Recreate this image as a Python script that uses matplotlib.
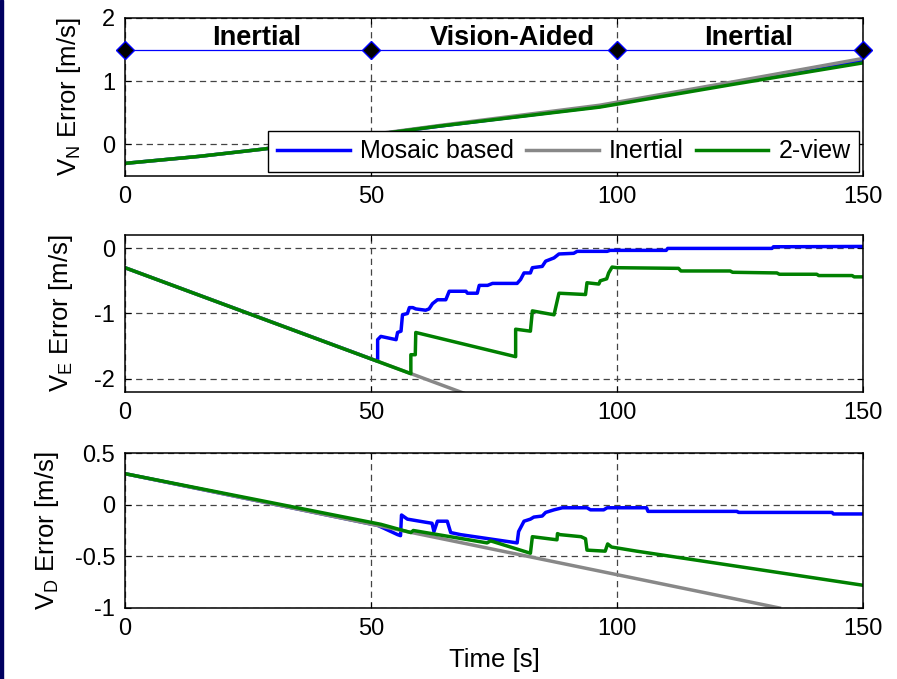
import matplotlib
matplotlib.use("Agg")
import matplotlib.pyplot as plt
from matplotlib.patches import Rectangle

plt.rcParams['font.family'] = ['Liberation Sans', 'DejaVu Sans']
plt.rcParams['mathtext.fontset'] = 'custom'
plt.rcParams['mathtext.rm'] = 'Liberation Sans'
plt.rcParams['mathtext.it'] = 'Liberation Sans'
plt.rcParams['axes.unicode_minus'] = False

# ---- data ----
# V_N error
t_vn = [0, 15, 28, 64, 96.5, 123.6, 150]
vn_mosaic = [-0.30, -0.19, -0.075, 0.29, 0.60, 0.97, 1.32]
vn_inertial = [-0.30, -0.19, -0.075, 0.30, 0.62, 0.99, 1.36]
vn_2view = [-0.30, -0.19, -0.075, 0.29, 0.59, 0.95, 1.29]

# V_E error
t_ve_inertial = [0, 70]
ve_inertial = [-0.30, -2.25]
t_ve_mosaic = [0, 51.35, 51.35, 52.0, 55.1, 55.4, 56.1, 56.4, 57.4, 57.8, 58.5, 59.1,
               61.1, 61.8, 62.5, 63.5, 65.2, 65.9, 69.3, 69.6, 71.6, 72.0, 73.7, 74.7,
               79.7, 80.4, 81.1, 82.4, 82.8, 84.8, 85.5, 87.2, 88.2, 91.2, 91.9, 98.0,
               98.6, 110, 110.3, 131.5, 131.8, 150]
ve_mosaic = [-0.30, -1.73, -1.40, -1.35, -1.40, -1.29, -1.27, -1.02, -1.00, -0.91, -0.91, -0.93,
             -0.95, -0.93, -0.85, -0.79, -0.79, -0.66, -0.66, -0.69, -0.69, -0.57, -0.57, -0.54,
             -0.54, -0.48, -0.38, -0.38, -0.30, -0.28, -0.20, -0.15, -0.09, -0.08, -0.05, -0.05,
             -0.035, -0.035, -0.005, -0.005, 0.02, 0.025]
t_ve_2view = [0, 58.1, 58.1, 59.0, 59.1, 79.4, 79.4, 82.4, 82.8, 87.2, 88.2, 93.6, 93.9,
              96.3, 96.6, 97.9, 98.3, 99.0, 100, 112.5, 113, 123, 123.5, 132.5, 133,
              140.6, 141, 147.8, 148.2, 150]
ve_2view = [-0.30, -1.92, -1.63, -1.63, -1.29, -1.66, -1.24, -1.27, -0.96, -1.02, -0.69, -0.71, -0.53,
            -0.55, -0.50, -0.47, -0.38, -0.29, -0.30, -0.31, -0.35, -0.35, -0.37, -0.38, -0.40,
            -0.40, -0.42, -0.42, -0.44, -0.44]

# V_D error
t_vd_inertial = [0, 133]
vd_inertial = [0.30, -1.00]
t_vd_mosaic = [0, 51.35, 55.4, 56.0, 56.2, 57.4, 61.1, 62.4, 62.8, 63.5, 65.5, 66.2, 68.2,
               79.7, 80.0, 81.1, 82.4, 83.1, 84.8, 85.5, 87.2, 88.9, 93.9, 94.6, 97.3, 98.0,
               106, 106.3, 124.4, 124.7, 143.7, 144, 150]
vd_mosaic = [0.30, -0.20, -0.29, -0.30, -0.10, -0.14, -0.17, -0.18, -0.26, -0.16, -0.16, -0.27, -0.29,
             -0.37, -0.26, -0.16, -0.14, -0.12, -0.11, -0.075, -0.05, -0.03, -0.03, -0.05, -0.05, -0.03,
             -0.03, -0.065, -0.065, -0.075, -0.075, -0.09, -0.09]
t_vd_2view = [0, 52, 58.1, 58.6, 73.6, 74.3, 82.4, 82.8, 87.8, 87.9, 88.4, 92.7, 93.6, 93.9,
              97.6, 98.1, 98.9, 104, 150]
vd_2view = [0.30, -0.19, -0.27, -0.25, -0.37, -0.35, -0.47, -0.31, -0.34, -0.28, -0.29, -0.31, -0.33, -0.44,
            -0.45, -0.38, -0.41, -0.45, -0.78]

# phase annotation
phase_t = [0, 50, 100, 150]
phase_y = [1.5, 1.5, 1.5, 1.5]
phase_names = ['Inertial', 'Vision-Aided', 'Inertial']
phase_name_t = [26.8, 78.7, 126.8]

c_mos = '#0000ff'
c_ins = '#888888'
c_2v = '#008000'
lw = 2.5

W, H = 897, 679
fig = plt.figure(figsize=(W / 100, H / 100), dpi=100)
# thin dark frame line on the left edge
fig.add_artist(Rectangle((0, 0), 2.5 / W, 1, transform=fig.transFigure,
                         color='#000060', zorder=10))


def make_ax(top, bottom):
    ax = fig.add_axes([125 / W, 1 - bottom / H, (863 - 125) / W, (bottom - top) / H])
    ax.set_xlim(0, 150)
    ax.set_xticks([0, 50, 100, 150])
    ax.grid(True, color='#444444', linestyle=(0, (5, 3.5)), linewidth=0.9)
    ax.tick_params(direction='in', top=True, right=True, length=4, labelsize=17,
                   pad=7)
    for s in ax.spines.values():
        s.set_linewidth(1.1)
    return ax


# V_N
ax1 = make_ax(18, 176)
ax1.plot(t_vn, vn_mosaic, color=c_mos, lw=lw, label='Mosaic based')
ax1.plot(t_vn, vn_inertial, color=c_ins, lw=lw, label='Inertial')
ax1.plot(t_vn, vn_2view, color=c_2v, lw=lw, label='2-view')
ax1.plot(phase_t, phase_y, color='#0000ff', lw=0.9, marker='D', markersize=9,
         markerfacecolor='black', markeredgecolor='#0000ff', clip_on=False, zorder=5)
for name, tx in zip(phase_names, phase_name_t):
    ax1.text(tx, 1.68, name, ha='center', va='center', fontsize=19.5, fontweight='bold')
ax1.set_ylim(-0.5, 2)
ax1.set_yticks([0, 1, 2])
ax1.set_ylabel(r'V$_{\mathrm{N}}$ Error [m/s]', fontsize=18.5, labelpad=14)
leg = ax1.legend(loc='lower right', ncol=3, fontsize=18, frameon=True, fancybox=False,
                 framealpha=1, edgecolor='black', borderaxespad=0.15, handlelength=2.9,
                 columnspacing=0.5, handletextpad=0.4, borderpad=0.35)
leg.get_frame().set_linewidth(1.0)

# V_E
ax2 = make_ax(235, 392)
ax2.plot(t_ve_mosaic, ve_mosaic, color=c_mos, lw=lw)
ax2.plot(t_ve_inertial, ve_inertial, color=c_ins, lw=lw)
ax2.plot(t_ve_2view, ve_2view, color=c_2v, lw=lw)
ax2.set_ylim(-2.2, 0.2)
ax2.set_yticks([-2, -1, 0])
ax2.set_ylabel(r'V$_{\mathrm{E}}$ Error [m/s]', fontsize=18.5, labelpad=14)

# V_D
ax3 = make_ax(453, 608)
ax3.plot(t_vd_mosaic, vd_mosaic, color=c_mos, lw=lw)
ax3.plot(t_vd_inertial, vd_inertial, color=c_ins, lw=lw)
ax3.plot(t_vd_2view, vd_2view, color=c_2v, lw=lw)
ax3.set_ylim(-1, 0.5)
ax3.set_yticks([-1, -0.5, 0, 0.5])
ax3.set_yticklabels(['-1', '-0.5', '0', '0.5'])
ax3.set_ylabel(r'V$_{\mathrm{D}}$ Error [m/s]', fontsize=18.5, labelpad=10)
ax3.set_xlabel('Time [s]', fontsize=18.5, labelpad=6)

fig.savefig('out.png', dpi=100)
